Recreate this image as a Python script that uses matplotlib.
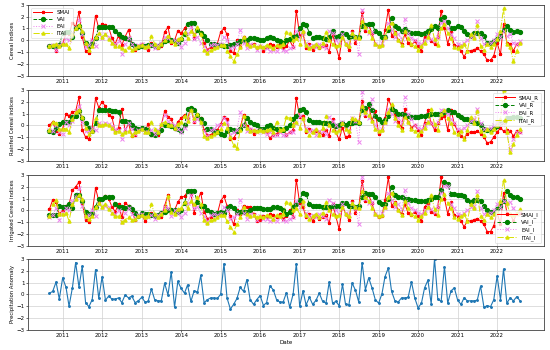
import pandas as pd
import numpy as np
import matplotlib
matplotlib.use('Agg')
import matplotlib.pyplot as plt
import matplotlib.dates as mdates

# monthly series, Sep 2010 - Aug 2022
dates = pd.date_range('2010-09-01', periods=144, freq='MS')
years = list(range(2011, 2023))

# ---- Cereal indices ----
smai = [-0.5, -0.5, -0.9, -0.4,
        -0.3, 0.6, 0.5, 1.5, 1.1, 2.4, 0.3, -0.9, -1.1, 0.0, 2.1, 1.0,
        1.4, 1.3, 1.1, 0.2, -0.3, 0.4, -0.4, 0.3, 0.9, -0.3, -0.8, -0.6,
        -0.3, -0.6, -0.8, -0.2, -0.5, -0.7, -0.5, 0.7, 1.1, -0.2, 0.0, 0.8,
        0.6, 1.0, 1.4, 1.5, 0.2, 0.9, 0.7, -0.2, -0.8, -0.6, -0.5, -0.3,
        0.7, 1.0, 0.5, -0.9, -1.1, 0.0, -0.6, 0.3, -0.2, -0.5, -0.3, -0.7,
        -0.5, -0.9, -0.6, -0.3, -0.4, -0.6, -0.3, -0.7, -0.5, 0.0, -0.6, 2.5,
        0.4, 0.6, -0.7, -0.3, -0.8, -0.5, -0.7, -0.5, -0.4, -1.0, 0.5, -0.5,
        -1.5, 0.4, -0.3, -0.8, 0.8, -0.2, 0.3, 2.4, 0.8, 1.3, 0.6, -0.3,
        -0.5, -0.4, 0.9, 2.6, 0.4, 0.7, 0.0, -0.3, 0.5, -0.2, -0.4, -0.1,
        -0.5, -0.9, 0.3, 0.6, -0.1, -0.3, 0.3, 2.5, 1.0, -0.3, 0.7, -0.4,
        -0.5, -0.9, -1.4, -0.9, -0.9, -0.8, -0.7, -0.9, -1.2, -1.7, -1.7, -1.3,
        -0.2, -1.2, 1.4, -0.2, -0.3, -0.9, -0.3, -0.2]
vai = [-0.5, -0.5, -0.5, -0.4,
       0.6, 0.7, 0.7, 0.3, 1.0, 1.25, 0.6, -0.2, -0.5, -0.2, 0.2, 1.1,
       1.1, 1.1, 1.1, 1.1, 0.8, 0.5, 0.3, 0.2, 0.1, -0.3, -0.5, -0.6,
       -0.5, -0.5, -0.4, -0.4, -0.5, -0.5, -0.3, -0.1, 0.0, 0.0, -0.1, -0.2,
       0.1, 0.5, 1.4, 1.5, 1.5, 0.9, 0.6, 0.4, 0.0, -0.3, -0.3, -0.4,
       -0.4, -0.5, -0.5, -0.4, -0.3, -0.2, -0.1, 0.0, 0.0, 0.2, 0.2, 0.1,
       0.0, 0.0, 0.2, 0.3, 0.2, 0.0, -0.1, -0.2, 0.0, 0.1, 0.3, 0.4,
       1.0, 1.4, 1.3, 0.65, 0.2, 0.3, 0.3, 0.2, 0.1, 0.25, 0.8, 0.3,
       0.35, 0.6, 0.55, 0.3, 0.35, 0.25, 0.3, 1.2, 1.3, 1.35, 1.35, 0.8,
       0.65, 0.3, 0.3, 0.9, 1.9, 1.2, 1.05, 0.8, 0.95, 0.7, 0.65, 0.65,
       0.65, 0.5, 0.65, 0.8, 0.95, 1.2, 1.0, 1.8, 2.0, 1.55, 1.0, 1.05,
       1.2, 1.15, 0.8, 0.5, 0.35, 0.65, 0.65, 0.65, 0.35, -0.2, -0.25, -0.1,
       0.1, 0.35, 0.9, 1.2, 0.85, 0.7, 0.8, 0.7]
eai = [-0.5, -0.4, -0.8, -0.4,
       -0.2, 0.2, 0.0, 0.6, 1.0, 1.7, 0.5, -0.6, -0.4, 0.0, -0.5, 0.5,
       0.2, 0.5, 0.3, -0.2, -0.3, -0.1, -1.2, -0.3, 0.2, -0.3, -0.7, -0.4,
       -0.3, -0.6, -0.6, -0.4, -0.7, -0.4, -0.2, 0.3, 0.2, -0.1, 0.0, -0.2,
       -0.6, -0.2, 0.6, 1.1, 0.1, 0.3, -0.2, -0.5, -0.9, -0.4, -0.3, -0.4,
       -0.3, 0.3, 0.0, -0.7, -0.6, -0.3, 0.9, -0.2, -0.7, -0.3, -0.4, -0.8,
       -0.5, -0.7, -0.7, -0.9, -0.8, -0.9, -0.6, -0.8, -0.9, -0.7, -0.6, 0.8,
       0.3, 0.6, -0.2, -0.5, -0.4, -0.6, -0.3, -0.5, -0.7, 0.8, 0.6, 0.0,
       -0.3, 0.5, -0.2, -0.4, 0.6, 0.2, -1.2, 2.6, 1.0, 0.6, 0.7, -0.3,
       -0.5, -0.2, 0.2, 1.5, 0.9, 0.3, 0.5, 0.1, 1.8, 0.6, 0.2, 0.0,
       -0.2, -0.3, 0.0, 0.4, 0.1, -0.1, 0.3, 1.5, 1.6, 1.0, 0.5, 0.2,
       -0.3, -0.4, -0.2, 0.0, 0.3, 0.4, 1.6, 0.2, -0.3, -0.3, -0.2, 0.0,
       0.5, 0.3, 0.8, 0.4, 0.5, -0.2, -0.3, -0.1]
itai = [-0.5, -0.4, -0.3, -0.5,
        -0.3, -0.3, -0.7, 0.5, 1.0, 1.3, 0.8, -0.2, -0.8, -0.5, 0.3, 0.6,
        0.3, 0.5, 0.1, -0.2, -0.5, -0.5, -0.7, -0.8, -0.6, -0.8, -0.7, -0.5,
        -0.4, -0.6, -0.5, 0.4, -0.3, -0.6, -0.3, 0.0, 0.4, -0.1, -0.3, 0.1,
        0.2, 0.7, 0.2, 0.8, 0.5, 1.1, 0.5, -0.8, -1.1, -0.8, -0.7, -0.6,
        -0.4, -0.4, -0.9, -1.3, -1.8, -1.2, -0.6, 0.3, -0.3, -0.5, -0.4, -0.6,
        -0.5, -0.6, -0.4, -0.5, -0.7, -0.4, -0.5, -0.3, 0.7, 0.6, 0.0, 0.2,
        -0.3, 0.8, -0.4, -0.7, -0.5, -0.3, -0.6, -0.2, 0.7, 0.0, -0.3, -0.5,
        -0.4, 0.3, -0.3, -0.5, 0.6, 0.3, 0.2, 1.6, 1.1, 0.8, 0.2, -0.3,
        -0.5, -0.4, 0.3, 1.1, 1.5, 0.6, 0.0, -0.4, 0.8, 0.2, -0.3, -0.5,
        -0.8, -0.5, -0.2, 0.3, 1.3, 0.1, -0.4, 1.0, 1.4, 0.6, 0.2, -0.6,
        -0.7, -0.5, -0.3, -0.9, 0.5, 0.2, 1.3, -0.5, -0.8, -0.3, -0.6, -0.3,
        0.1, 0.8, 2.7, -0.3, -0.6, -1.8, -0.9, -0.2]

# ---- Rainfed cereal indices ----
smai_r = [0.0, 0.3, -0.5, -0.7,
          -0.3, 1.0, 0.8, 1.1, 1.2, 2.4, -0.4, -1.0, -1.2, -0.2, 2.3, 1.5,
          2.0, 1.6, 0.9, 0.7, -0.6, -0.2, 1.4, -0.5, 0.2, -0.9, -0.8, -0.5,
          -0.3, -0.5, 0.1, -0.8, -0.7, -0.8, 0.0, 1.2, 0.7, 0.5, -0.3, 0.3,
          0.6, 0.9, 0.6, 1.5, 0.3, 0.8, 0.6, -0.4, -0.8, -0.8, -0.6, -0.4,
          0.1, 0.7, 0.5, -1.2, -1.1, -0.6, -0.2, 0.9, -0.1, -0.3, -0.7, -0.5,
          -0.3, -0.5, -0.6, -1.1, -0.8, -0.7, -0.5, -0.4, -0.8, -0.6, -0.4, 2.3,
          0.7, 0.8, -0.6, -0.3, -0.6, -0.5, -0.6, -0.8, -0.4, -0.9, 0.5, -0.6,
          -1.2, -0.2, -1.0, -0.9, 0.5, 0.3, 0.2, 2.1, 0.8, 1.6, 0.4, 1.2,
          -0.7, -0.4, 0.6, 2.2, 1.6, 0.9, 0.3, -0.2, 1.4, 0.3, -0.2, 0.0,
          -0.4, -0.8, 0.2, 1.3, 0.2, -0.4, 0.2, 0.6, 0.8, -0.4, 1.3, 0.1,
          -0.5, -0.9, -1.1, -0.7, -0.6, -0.6, -0.5, -0.7, -1.0, -1.5, -1.4, -1.0,
          -0.6, -0.2, -0.5, -0.4, -0.5, -0.9, -0.5, -0.6]
vai_r = [-0.5, -0.6, -0.2, 0.1,
         0.3, 0.3, 0.3, 0.7, 0.8, 1.2, 0.6, 0.2, -0.2, -0.5, 0.2, 1.3,
         1.3, 1.3, 1.3, 1.2, 1.2, 1.1, 0.4, 0.4, 0.3, 0.0, -0.2, -0.3,
         -0.2, -0.3, -0.4, -0.7, -0.8, -0.6, -0.4, 0.0, 0.0, -0.1, -0.2, -0.3,
         -0.5, 0.0, 1.4, 1.5, 1.3, 0.9, 0.5, 0.2, -0.3, -0.3, -0.5, -0.6,
         -0.7, -0.8, -0.5, -0.3, -0.4, -0.5, -0.3, 0.0, 0.6, 0.3, 0.1, 0.0,
         -0.3, -0.3, -0.1, 0.0, -0.2, -0.3, -0.3, -0.4, -0.2, 0.0, 0.5, 0.8,
         1.3, 1.35, 1.15, 0.45, 0.3, 0.3, 0.3, 0.2, 0.2, 0.2, 0.0, -0.1,
         0.0, 0.2, 0.0, 0.2, 0.2, 0.3, 0.2, 1.3, 1.45, 1.8, 1.3, 0.8,
         0.5, 0.3, 0.45, 0.8, 1.4, 1.2, 1.0, 1.0, 0.9, 0.8, 0.7, 0.7,
         0.7, 0.8, 0.8, 0.9, 1.0, 1.0, 1.0, 1.0, 1.1, 1.3, 1.1, 1.1,
         0.9, 0.7, 0.55, 0.55, 0.4, 0.3, 0.2, 0.0, -0.3, -0.4, -0.4, -0.2,
         -0.1, 0.2, 0.3, 0.6, 0.6, 0.7, 0.7, 0.6]
eai_r = [-0.4, -0.5, 0.0, -0.6,
         -0.7, 0.3, 0.0, 0.4, 1.2, 1.6, 0.3, -0.5, -0.5, -0.2, -0.4, 0.2,
         0.0, 0.2, 0.1, -0.1, -0.3, -0.4, -1.2, -0.3, 0.2, -0.3, -0.7, -0.4,
         -0.3, -0.6, -0.6, -0.4, -0.7, -0.4, 0.0, 0.9, 0.4, 0.1, 0.0, -0.3,
         -0.6, -0.2, 0.6, 1.2, 0.4, 0.5, 0.2, -0.5, -0.9, -0.4, -0.3, 0.0,
         0.0, 0.6, 0.3, -0.8, -0.6, -0.4, 1.1, 0.0, -0.5, -0.3, -0.4, -0.6,
         -0.4, -0.6, -0.7, -0.6, -0.8, -0.8, -0.6, -0.8, -0.8, -0.6, -0.6, 0.2,
         0.8, 0.5, -0.2, -0.5, -0.4, -0.8, -0.5, -0.5, -0.7, 0.7, 0.4, 0.0,
         -0.4, 0.3, -0.3, -0.5, 0.6, 0.4, -1.4, 2.8, 1.0, 0.6, 2.2, 0.0,
         -0.5, -0.3, 0.2, 1.4, 1.0, 0.4, 0.6, 0.3, 2.4, 1.0, 0.5, 0.0,
         -0.2, -0.3, 0.0, 0.4, 0.2, -0.1, 0.3, 1.3, 1.2, 1.0, 0.5, 0.2,
         -0.3, -0.4, -0.2, 0.0, 0.4, 0.5, 1.4, 0.2, -0.3, -0.3, -0.2, 0.0,
         0.3, 0.1, 0.2, -0.6, -2.0, -1.2, -0.6, -0.6]
itai_r = [-0.4, 0.3, 0.2, -0.3,
          -0.3, -0.3, -0.6, 0.5, 1.1, 1.3, 0.7, -0.2, -0.7, -0.5, 0.6, 0.0,
          0.0, 0.1, 0.0, -0.2, -0.6, -0.5, -0.7, -0.6, -0.5, -0.8, -0.6, -0.5,
          -0.3, -0.6, -0.6, 0.3, -0.3, -0.6, 0.1, 0.3, 0.0, 0.0, -0.2, 0.1,
          0.3, 0.8, 0.4, 1.3, 0.6, 1.0, 0.3, -0.9, -1.1, -0.9, -0.7, -0.6,
          -0.3, 0.2, -0.2, -1.0, -1.7, -1.9, -0.4, 0.8, -0.2, -0.5, -0.4, -0.5,
          -0.4, -0.5, -0.4, -0.3, -0.6, 0.3, -0.4, -0.3, 0.7, 0.6, 0.0, 0.3,
          -0.2, 0.6, -0.4, -0.8, -0.6, -0.3, -0.8, -0.2, 0.8, 0.0, -0.4, -0.6,
          -0.4, 0.2, -0.3, -0.5, 0.6, 0.5, 0.3, 1.6, 1.1, 0.9, 0.4, -0.3,
          -0.5, -0.4, 0.3, 1.1, 1.8, 0.6, 0.0, -0.4, 0.7, 0.3, -0.3, -0.5,
          -0.8, -0.5, -0.2, 0.3, 1.4, 0.1, -0.4, 1.0, 1.3, 0.6, 0.2, -0.6,
          -0.7, -0.5, -1.2, -0.4, 0.7, 0.2, 1.2, -0.5, -0.8, -0.3, -0.6, -0.3,
          0.0, 0.5, 3.0, -0.6, -2.3, -1.6, -0.8, -0.3]

# ---- Irrigated cereal indices ----
smai_i = [0.1, 0.9, 0.7, -0.3,
          0.0, 0.4, 0.5, 1.7, 2.0, 2.4, 0.6, -0.8, -1.0, -0.3, 1.9, 0.8,
          1.0, 1.2, 1.0, 0.3, -0.1, 0.5, -0.6, 0.6, 0.4, 0.0, -0.8, -0.5,
          -0.4, -0.9, -0.3, -0.2, -0.5, -0.6, -0.6, 0.4, 1.3, 0.0, 0.0, 0.7,
          1.1, 1.2, 1.6, 1.4, -0.2, 0.8, 1.5, -0.1, -0.7, -0.6, -0.4, -0.3,
          0.8, 1.2, 0.4, -0.5, -1.2, 0.0, -0.3, 0.4, 0.3, 0.3, -0.3, -0.9,
          -0.8, -0.5, -0.6, -0.3, -0.4, -0.6, -0.3, -0.7, -0.5, 0.0, -0.6, 2.6,
          0.6, 0.3, -0.6, -0.3, -0.9, -0.5, -0.7, -0.6, -0.4, -1.1, 0.5, -0.5,
          -1.6, 0.4, -0.3, -0.8, 0.8, -0.2, 0.3, 2.5, 0.8, 1.3, 0.6, -0.3,
          -0.6, -0.5, 0.9, 2.8, 0.4, 0.7, 0.0, -0.3, 0.5, -0.2, -0.4, -0.1,
          -0.5, -0.9, 0.3, 0.6, -0.1, -0.3, 0.3, 2.8, 1.0, -0.3, 0.7, -0.4,
          -0.5, -0.9, -1.4, -0.9, -0.9, -0.8, -0.7, -0.9, -1.2, -1.8, -1.8, -1.3,
          -0.2, -1.2, 1.5, -0.2, -0.3, -0.9, -0.3, -0.2]
vai_i = [-0.4, -0.4, -0.4, 0.4,
         0.3, 0.3, 0.5, 0.2, 1.3, 1.3, 0.8, -0.1, -0.3, -0.2, 0.3, 1.0,
         1.0, 1.1, 1.1, 1.1, 0.5, 0.3, 0.3, 0.2, 0.3, 0.1, -0.2, -0.5,
         -0.2, -0.3, -0.3, -0.4, -0.5, -0.4, -0.2, -0.1, 0.0, 0.0, 0.0, -0.1,
         0.0, 0.6, 1.6, 1.6, 1.6, 0.7, 0.4, 0.4, 0.0, -0.1, -0.3, -0.2,
         -0.1, -0.2, 0.2, 0.4, 0.2, -0.1, -0.1, -0.1, -0.1, 0.0, 0.2, 0.2,
         0.2, 0.1, 0.1, 0.1, 0.3, 0.3, 0.2, 0.0, -0.3, -0.1, 0.3, 0.5,
         0.9, 1.5, 1.4, 0.5, 0.4, 0.4, 0.4, 0.3, 0.3, 0.3, 0.4, 0.4,
         0.4, 0.6, 0.6, 0.4, 0.4, 0.3, 0.4, 1.1, 1.5, 1.4, 1.4, 1.1,
         0.7, 0.5, 0.5, 1.0, 2.0, 1.3, 1.1, 1.1, 1.0, 1.0, 0.9, 0.9,
         0.8, 0.8, 0.8, 0.9, 1.0, 1.1, 1.1, 1.7, 2.4, 2.2, 1.4, 1.4,
         1.3, 1.3, 1.2, 0.9, 0.7, 0.9, 0.9, 0.8, 0.4, 0.0, -0.1, -0.1,
         0.1, 0.4, 0.8, 1.6, 1.3, 1.1, 1.1, 1.0]
eai_i = [-0.6, -0.4, 0.2, -0.85,
         -0.2, 0.2, 0.0, 0.8, 1.1, 1.9, 0.4, -0.6, -0.4, 0.0, -0.5, 0.5,
         0.3, 0.4, 0.3, -0.2, -0.3, 0.0, -1.0, -0.2, 0.2, -0.3, -0.7, -0.4,
         -0.3, -0.6, -0.6, -0.4, -0.7, -0.4, -0.2, 0.3, 0.2, -0.5, 0.0, -0.2,
         -0.6, -0.2, 0.6, 1.3, 0.2, 0.3, -0.2, -0.5, -0.9, -0.4, -0.3, -0.4,
         -0.3, 0.3, 0.0, -0.7, -0.6, -0.3, 0.9, -0.2, -0.7, -0.3, -0.4, -0.8,
         -0.5, -0.7, -0.7, -0.9, -0.8, -0.9, -0.6, -0.8, -0.9, -0.7, -0.6, 0.8,
         0.3, 0.6, -0.2, -0.5, -0.4, -0.6, -0.3, -0.5, -0.7, 0.9, 0.6, 0.0,
         -0.3, 0.5, -0.2, -0.4, 0.6, 0.2, -1.2, 2.85, 1.0, 0.6, 0.7, -0.3,
         -0.5, -0.2, 0.2, 1.5, 0.9, 0.3, 0.5, 0.1, 1.7, 0.6, 0.2, 0.0,
         -0.2, -0.3, 0.0, 0.4, 0.1, -0.1, 0.3, 1.5, 2.1, 2.1, 0.5, 0.2,
         -0.3, -0.4, -0.2, 0.0, 0.3, 0.4, 1.6, 0.2, -0.3, -0.3, -0.2, 0.0,
         0.5, 0.3, 0.8, 0.6, 0.7, 0.2, -0.3, -0.1]
itai_i = [-0.5, 0.5, 0.9, -0.3,
          -0.3, -0.2, -0.9, 0.5, 1.0, 1.3, 1.0, -0.5, -0.7, -0.5, 0.3, 0.6,
          0.3, 0.5, 0.1, -0.2, -0.5, -0.5, -1.0, -0.8, -0.6, -0.8, -0.7, -0.5,
          -0.4, -0.6, -0.5, 0.5, -0.3, -0.6, -0.3, 0.0, 1.2, -0.1, -0.3, 0.1,
          0.2, 0.7, 0.2, 0.8, 0.5, 1.1, 0.5, -0.8, -1.1, -0.8, -0.7, -0.6,
          -0.4, -0.4, -0.9, -1.4, -1.8, -1.2, -0.6, 0.3, -0.3, -0.5, -0.4, -0.6,
          -0.5, -0.6, -0.4, -0.5, -0.7, -0.4, -0.5, -0.3, 0.7, 0.6, 0.0, 0.2,
          -0.3, 0.8, -0.4, -0.7, -0.5, -0.3, -0.6, -0.2, 0.7, 0.0, -0.3, -0.5,
          -0.4, 0.3, -0.3, -0.5, 0.6, 0.3, 0.2, 1.6, 1.1, 0.8, 0.2, -0.3,
          -0.5, -0.4, 0.3, 1.1, 1.5, 0.6, 0.0, -0.4, 0.8, 0.2, -0.3, -0.5,
          -0.8, -0.5, -0.2, 0.3, 1.3, 0.1, -0.4, 1.0, 1.4, 0.6, 0.2, -0.6,
          -0.7, -0.5, -0.3, -0.9, 0.5, 0.2, 1.3, -0.5, -0.8, -0.3, -0.6, -0.3,
          -0.1, 0.8, 2.6, 0.6, -0.3, -0.4, -0.2, 0.1]

# ---- Precipitation anomaly ----
precip = [0.1, 0.25, 1.05, -0.4,
          1.4, 0.6, -1.0, 0.55, 2.7, 0.6, 2.4, -0.7, -1.05, -0.45, 2.1, -0.35,
          1.5, -0.5, -0.15, -0.4, -0.4, -0.3, -0.7, -0.05, -0.3, -0.15, -0.7, -0.55,
          -0.25, -0.65, -0.6, 0.45, -0.45, -0.55, -0.55, 0.95, -0.05, 1.9, -1.1, 1.1,
          0.5, 0.1, 0.8, -0.6, 0.3, 0.2, 1.6, -0.7, -0.45, -0.3, -0.3, -0.35,
          0.0, 2.6, -0.3, -1.25, -0.85, -0.35, 0.6, 0.25, 1.25, -0.45, -0.85, -0.45,
          -0.1, -0.95, -0.7, 0.7, 0.4, -0.45, -0.65, -0.65, 0.15, -1.1, 0.0, 2.6,
          -1.0, 0.3, -0.9, -0.25, -0.85, -0.5, 0.1, -0.6, -0.75, 1.05, -0.75, -0.6,
          -0.95, 0.85, -0.85, -0.9, 0.95, 0.35, -0.65, 2.7, 0.4, 1.4, 0.55, -0.45,
          -0.75, 0.05, 1.5, 2.25, 0.25, -0.55, -0.65, -0.3, -0.3, -0.25, 1.05, -0.3,
          -1.15, -0.75, 0.55, 1.2, -0.8, 3.0, -0.4, -0.6, 2.35, -0.75, 0.3, 0.55,
          -0.5, -0.85, -0.3, -0.55, -0.55, -0.55, -0.5, 0.7, -1.1, -0.95, -1.05, -0.45,
          1.55, -0.45, 2.15, -0.75, -0.3, -0.55, -0.2, -0.55]

plt.rcParams['font.family'] = 'DejaVu Sans'
plt.rcParams['axes.unicode_minus'] = True

fig = plt.figure(figsize=(5.5, 3.5), dpi=100)

ITAI_COL = '#d8e000'
EAI_COL = 'violet'

panels = [
    ('Cereal indices', smai, vai, eai, itai, '', 'upper left'),
    ('Rainfed Cereal indices', smai_r, vai_r, eai_r, itai_r, '_R', 'upper right'),
    ('Irrigated Cereal indices', smai_i, vai_i, eai_i, itai_i, '_I', 'lower right'),
]
tops = [0.986, 0.743, 0.5, 0.26]
h = 0.202
axes = []
for k in range(4):
    ax = fig.add_axes([0.051, tops[k] - h, 0.938, h])
    axes.append(ax)

for ax, (lab, s, v, e, t, suf, loc) in zip(axes[:3], panels):
    ax.plot(dates, s, color='red', ls='-', marker='*', ms=2.2, lw=0.7, label='SMAI' + suf)
    ax.plot(dates, v, color='green', ls='--', marker='o', ms=2.8, lw=0.7, label='VAI' + suf)
    ax.plot(dates, e, color=EAI_COL, ls=':', marker='x', ms=2.5, lw=0.7, mew=0.7, label='EAI' + suf)
    ax.plot(dates, t, color=ITAI_COL, ls='-.', marker='^', ms=2.2, lw=0.7, label='ITAI' + suf)
    ax.set_ylabel(lab, fontsize=3.8, labelpad=1)
    leg = ax.legend(loc=loc, fontsize=4, handlelength=3.5, borderpad=0.4,
                    labelspacing=0.35, framealpha=0.8)
    leg.get_frame().set_linewidth(0.4)

axes[3].plot(dates, precip, color='#1f77b4', marker='.', ms=2.2, lw=0.8)
axes[3].set_ylabel('Precipitation Anomaly', fontsize=3.8, labelpad=1)
axes[3].set_xlabel('Date', fontsize=4, labelpad=1)

year_ticks = [pd.Timestamp(f'{y}-01-01') for y in years]
for ax in axes:
    ax.set_ylim(-3, 3)
    ax.set_yticks([-3, -2, -1, 0, 1, 2, 3])
    ax.set_xlim(pd.Timestamp('2010-02-15'), pd.Timestamp('2023-03-10'))
    ax.set_xticks(year_ticks)
    ax.xaxis.set_major_formatter(mdates.DateFormatter('%Y'))
    ax.tick_params(labelsize=4, length=1.5, width=0.4, pad=1)
    ax.grid(True, color='#d0d0d0', lw=0.5)
    for sp in ax.spines.values():
        sp.set_linewidth(0.6)
        sp.set_color('#404040')

fig.savefig('out.png', dpi=100)
